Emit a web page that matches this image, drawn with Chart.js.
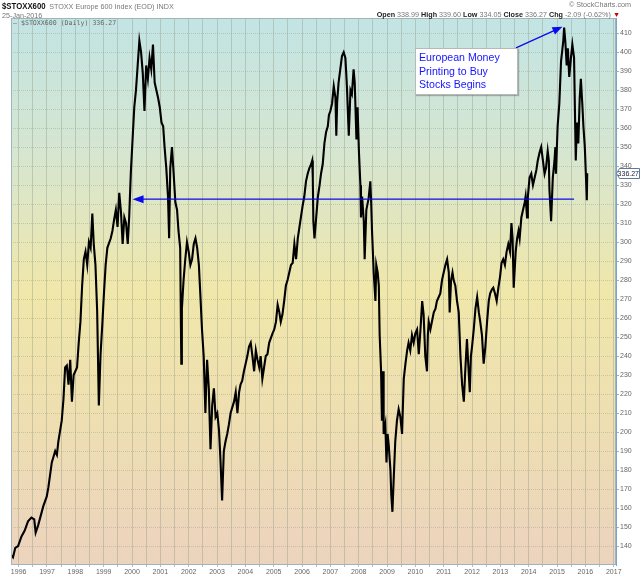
<!DOCTYPE html>
<html>
<head>
<meta charset="utf-8">
<script src="https://cdn.jsdelivr.net/npm/chart.js@4.4.1/dist/chart.umd.min.js"></script>
<style>
  body { margin: 0; background: #fff; }
  #wrap { position: relative; width: 640px; height: 576px; overflow: hidden; font-family: "Liberation Sans", Arial, sans-serif; }
  #chart { position: absolute; left: 0; top: 0; }
  .txt { position: absolute; white-space: nowrap; color: #777; font-size: 7.2px; line-height: 9px; }
  .txt b { color: #222; }
  #sym { font-size: 9.5px; font-weight: bold; color: #111; display: inline-block; transform: scaleX(0.82); transform-origin: left; margin-right: -8px; }
  #legend { font-family: "DejaVu Sans Mono", monospace; font-size: 6.6px; color: #666; }
  #note { position: absolute; left: 415px; top: 48px; width: 98px; height: 43px; background: #fff;
          border: 1px solid #b8b8b8; box-shadow: 1px 1px 1px rgba(0,0,0,0.25);
          color: #1414ff; font-size: 10.6px; line-height: 13.5px; padding: 2px 0 0 3px; }
</style>
</head>
<body>
<div id="wrap">
  <canvas id="chart" width="640" height="576"></canvas>
  <div class="txt" style="left:2px;top:1px;"><span id="sym">$STOXX600</span> STOXX Europe 600 Index (EOD) INDX</div>
  <div class="txt" style="left:2px;top:11px;">25-Jan-2016</div>
  <div class="txt" style="right:9px;top:0px;">© StockCharts.com</div>
  <div class="txt" style="right:20px;top:10px;"><b>Open</b> 338.99 <b>High</b> 339.60 <b>Low</b> 334.05 <b>Close</b> 336.27 <b>Chg</b> -2.09 (-0.62%) <span style="color:#c00">▼</span></div>
  <div class="txt" id="legend" style="left:13px;top:19px;">— $STOXX600 (Daily) 336.27</div>
  <div id="note">European Money<br>Printing to Buy<br>Stocks Begins</div>
</div>
<script>
// dates as decimal years, closes
const years = [
  1995.68, 1995.80, 1995.88, 1995.98, 1996.10, 1996.21, 1996.33, 1996.45, 1996.55, 1996.60,
  1996.69, 1996.87, 1996.99, 1997.05, 1997.17, 1997.29, 1997.35, 1997.40, 1997.52, 1997.58,
  1997.64, 1997.70, 1997.76, 1997.82, 1997.88, 1997.94, 1998.06, 1998.12, 1998.18, 1998.24,
  1998.30, 1998.36, 1998.42, 1998.48, 1998.54, 1998.60, 1998.65, 1998.71, 1998.77, 1998.83,
  1998.89, 1998.95, 1999.01, 1999.07, 1999.13, 1999.25, 1999.31, 1999.37, 1999.43, 1999.49,
  1999.55, 1999.61, 1999.67, 1999.73, 1999.79, 1999.85, 1999.90, 1999.96, 2000.02, 2000.08,
  2000.14, 2000.20, 2000.26, 2000.32, 2000.38, 2000.44, 2000.50, 2000.56, 2000.62, 2000.68,
  2000.74, 2000.80, 2000.86, 2000.92, 2000.98, 2001.04, 2001.10, 2001.15, 2001.21, 2001.27,
  2001.31, 2001.35, 2001.41, 2001.47, 2001.53, 2001.59, 2001.64, 2001.70, 2001.74, 2001.76,
  2001.82, 2001.88, 2001.94, 2002.00, 2002.06, 2002.12, 2002.18, 2002.24, 2002.30, 2002.36,
  2002.41, 2002.47, 2002.53, 2002.59, 2002.62, 2002.65, 2002.71, 2002.77, 2002.83, 2002.89,
  2002.95, 2003.01, 2003.07, 2003.12, 2003.18, 2003.24, 2003.30, 2003.36, 2003.42, 2003.48,
  2003.60, 2003.66, 2003.72, 2003.78, 2003.83, 2003.89, 2003.95, 2004.01, 2004.07, 2004.13,
  2004.19, 2004.25, 2004.31, 2004.37, 2004.43, 2004.49, 2004.54, 2004.60, 2004.66, 2004.72,
  2004.78, 2004.84, 2004.96, 2005.02, 2005.08, 2005.14, 2005.20, 2005.25, 2005.31, 2005.37,
  2005.43, 2005.49, 2005.55, 2005.61, 2005.67, 2005.73, 2005.79, 2005.85, 2005.91, 2005.96,
  2006.02, 2006.08, 2006.14, 2006.20, 2006.26, 2006.32, 2006.36, 2006.38, 2006.40, 2006.44,
  2006.50, 2006.56, 2006.62, 2006.67, 2006.73, 2006.79, 2006.85, 2006.91, 2006.95, 2007.00,
  2007.06, 2007.12, 2007.18, 2007.21, 2007.24, 2007.29, 2007.35, 2007.41, 2007.47, 2007.53,
  2007.56, 2007.59, 2007.65, 2007.71, 2007.76, 2007.82, 2007.86, 2007.92, 2007.96, 2008.01,
  2008.06, 2008.08, 2008.12, 2008.18, 2008.21, 2008.27, 2008.35, 2008.41, 2008.44, 2008.47,
  2008.53, 2008.59, 2008.62, 2008.67, 2008.71, 2008.74, 2008.79, 2008.82, 2008.86, 2008.88,
  2008.94, 2008.98, 2009.02, 2009.06, 2009.12, 2009.15, 2009.19, 2009.24, 2009.29, 2009.35,
  2009.41, 2009.47, 2009.53, 2009.59, 2009.65, 2009.71, 2009.76, 2009.82, 2009.88, 2009.94,
  2010.00, 2010.06, 2010.12, 2010.18, 2010.24, 2010.29, 2010.35, 2010.41, 2010.44, 2010.47,
  2010.53, 2010.65, 2010.71, 2010.76, 2010.82, 2010.88, 2010.94, 2011.00, 2011.06, 2011.12,
  2011.18, 2011.21, 2011.26, 2011.31, 2011.35, 2011.41, 2011.47, 2011.53, 2011.59, 2011.65,
  2011.71, 2011.76, 2011.82, 2011.88, 2011.92, 2011.96, 2012.00, 2012.06, 2012.12, 2012.18,
  2012.24, 2012.29, 2012.35, 2012.41, 2012.47, 2012.53, 2012.59, 2012.64, 2012.70, 2012.75,
  2012.81, 2012.87, 2012.93, 2012.99, 2013.04, 2013.10, 2013.16, 2013.22, 2013.28, 2013.34,
  2013.39, 2013.43, 2013.47, 2013.54, 2013.59, 2013.64, 2013.68, 2013.74, 2013.80, 2013.86,
  2013.89, 2013.94, 2013.97, 2014.03, 2014.09, 2014.15, 2014.21, 2014.27, 2014.32, 2014.38,
  2014.44, 2014.50, 2014.56, 2014.61, 2014.67, 2014.71, 2014.73, 2014.79, 2014.85, 2014.91,
  2014.94, 2014.96, 2015.02, 2015.08, 2015.14, 2015.22, 2015.25, 2015.29, 2015.34, 2015.38,
  2015.43, 2015.49, 2015.54, 2015.60, 2015.64, 2015.66, 2015.70, 2015.75, 2015.80, 2015.84,
  2015.89, 2015.93, 2015.98, 2016.05, 2016.065
];
const closes = [
  136, 134, 139, 140, 145, 148, 153, 155, 154, 147,
  151, 161, 166, 171, 184, 190, 188, 195, 206, 217,
  234, 235, 225, 238, 216, 230, 234, 247, 258, 277,
  291, 295, 288, 300, 297, 315, 299, 288, 264, 214,
  241, 256, 273, 288, 297, 302, 306, 312, 317, 308,
  326, 316, 299, 313, 310, 299, 313, 337, 354, 371,
  380, 393, 406, 400, 389, 369, 393, 386, 397, 391,
  404, 384, 380, 376, 371, 363, 361, 350, 339, 324,
  302, 339, 350, 336, 321, 317, 306, 297, 236, 265,
  280, 291, 300, 295, 288, 291, 299, 302, 297, 288,
  273, 254, 240, 210, 225, 238, 223, 191, 214, 223,
  208, 210, 201, 186, 164, 190, 195, 199, 204, 210,
  216, 221, 210, 221, 225, 227, 232, 236, 240, 245,
  247, 240, 232, 243, 238, 234, 240, 228, 234, 240,
  241, 247, 252, 254, 258, 267, 263, 258, 262, 269,
  277, 280, 284, 288, 289, 299, 291, 302, 308, 313,
  319, 324, 332, 336, 339, 341, 343, 334, 311, 302,
  313, 324, 330, 336, 341, 352, 358, 361, 367, 369,
  373, 382, 376, 356, 374, 384, 391, 398, 400, 397,
  389, 380, 356, 380, 378, 391, 384, 354, 371, 347,
  330, 313, 324, 311, 291, 317, 323, 332, 321, 306,
  284, 269, 288, 284, 277, 251, 232, 206, 232, 199,
  204, 184, 199, 193, 180, 167, 158, 177, 195, 206,
  212, 208, 199, 228, 236, 243, 247, 243, 251, 247,
  252, 254, 241, 254, 269, 262, 240, 232, 251, 258,
  254, 263, 265, 269, 271, 273, 280, 284, 288, 291,
  284, 263, 280, 284, 280, 277, 269, 263, 240, 225,
  216, 232, 249, 232, 221, 240, 245, 254, 265, 271,
  263, 258, 251, 236, 245, 258, 269, 273, 275, 276,
  273, 269, 276, 282, 289, 291, 288, 295, 299, 295,
  310, 302, 276, 295, 302, 306, 302, 313, 317, 321,
  324, 313, 324, 334, 336, 330, 334, 338, 343, 347,
  350, 343, 336, 339, 348, 343, 328, 311, 334, 343,
  350, 336, 361, 373, 395, 406, 413, 406, 393, 402,
  387, 397, 404, 397, 361, 343, 363, 352, 376, 386,
  373, 361, 350, 322, 336.27
];
const yearLabels = ["1996","1997","1998","1999","2000","2001","2002","2003","2004","2005","2006",
                    "2007","2008","2009","2010","2011","2012","2013","2014","2015","2016","2017"];
const priceTicks = [140,150,160,170,180,190,200,210,220,230,240,250,260,270,280,290,
                    300,310,320,330,340,350,360,370,380,390,400,410];
const lastClose = 336.27;
// annotation anchors in data units
const supportLevel = 322.6, supportFrom = 2000.02, supportTo = 2015.6;
const noteArrowFrom = [2013.55, 402.3], noteArrowTo = [2015.19, 413.4];

const points = years.map((x, i) => ({ x: x, y: closes[i] }));

function arrow(ctx, x1, y1, x2, y2, len, half) {
  const a = Math.atan2(y2 - y1, x2 - x1);
  ctx.beginPath();
  ctx.moveTo(x1, y1);
  ctx.lineTo(x2 - Math.cos(a) * len * 0.8, y2 - Math.sin(a) * len * 0.8);
  ctx.stroke();
  ctx.beginPath();
  ctx.moveTo(x2, y2);
  ctx.lineTo(x2 - Math.cos(a) * len - Math.sin(a) * half, y2 - Math.sin(a) * len + Math.cos(a) * half);
  ctx.lineTo(x2 - Math.cos(a) * len + Math.sin(a) * half, y2 - Math.sin(a) * len - Math.cos(a) * half);
  ctx.closePath();
  ctx.fill();
}

const decor = {
  id: "decor",
  beforeDraw(chart) {
    const { ctx, chartArea: a } = chart;
    const g = ctx.createLinearGradient(0, a.top, 0, a.bottom);
    g.addColorStop(0, "rgb(194,228,228)");
    g.addColorStop(0.25, "rgb(214,230,208)");
    g.addColorStop(0.5, "rgb(240,231,170)");
    g.addColorStop(0.75, "rgb(238,222,178)");
    g.addColorStop(1, "rgb(236,211,190)");
    ctx.save();
    ctx.fillStyle = g;
    ctx.fillRect(a.left, a.top, a.right - a.left, a.bottom - a.top);
    ctx.restore();
  },
  afterDatasetsDraw(chart) {
    const { ctx, chartArea: a, scales: { x, y } } = chart;
    ctx.save();
    ctx.strokeStyle = "rgb(160,180,188)";
    ctx.lineWidth = 1;
    ctx.strokeRect(a.left + 0.5, a.top + 0.5, a.right - a.left - 1, a.bottom - a.top - 1);

    ctx.strokeStyle = "#0a0aee";
    ctx.fillStyle = "#0a0aee";
    ctx.lineWidth = 1.3;
    const ly = y.getPixelForValue(supportLevel);
    arrow(ctx, x.getPixelForValue(supportTo), ly, x.getPixelForValue(supportFrom), ly, 11, 4);
    arrow(ctx, x.getPixelForValue(noteArrowFrom[0]), y.getPixelForValue(noteArrowFrom[1]),
          x.getPixelForValue(noteArrowTo[0]), y.getPixelForValue(noteArrowTo[1]), 10, 4);

    // last price tag on the axis
    const py = Math.round(y.getPixelForValue(lastClose)) + 0.5;
    const px = a.right + 0.5;
    ctx.fillStyle = "#fff";
    ctx.strokeStyle = "rgb(90,120,160)";
    ctx.lineWidth = 1;
    ctx.beginPath();
    ctx.moveTo(px, py);
    ctx.lineTo(px + 3, py - 5);
    ctx.lineTo(639.5, py - 5);
    ctx.lineTo(639.5, py + 5);
    ctx.lineTo(px + 3, py + 5);
    ctx.closePath();
    ctx.fill();
    ctx.stroke();
    ctx.fillStyle = "#223";
    ctx.font = "7px 'Liberation Sans', Arial, sans-serif";
    ctx.textBaseline = "middle";
    ctx.textAlign = "right";
    ctx.fillText(lastClose.toFixed(2), 639, py + 0.5);
    ctx.restore();
  }
};

new Chart(document.getElementById("chart"), {
  type: "line",
  data: {
    datasets: [{
      label: "$STOXX600 (Daily)",
      data: points,
      borderColor: "#000",
      borderWidth: 2.1,
      pointRadius: 0,
      tension: 0,
    }],
  },
  options: {
    responsive: false,
    animation: false,
    parsing: false,
    layout: { padding: { left: 11, top: 18, right: 0, bottom: 0 } },
    plugins: { legend: { display: false }, tooltip: { enabled: false } },
    scales: {
      x: {
        type: "linear",
        min: 1995.73,
        max: 2017.08,
        afterBuildTicks(scale) {
          const t = [];
          yearLabels.forEach(l => { t.push({ value: +l }); t.push({ value: +l + 0.5 }); });
          scale.ticks = t.filter(k => k.value <= 2017.08);
        },
        afterFit(scale) { scale.height = 11; },
        ticks: {
          autoSkip: false,
          maxRotation: 0,
          padding: 1,
          color: "#666",
          font: { size: 7, family: "'Liberation Sans', Arial, sans-serif" },
          callback: v => (Number.isInteger(v) ? yearLabels[v - 1996] : ""),
        },
        grid: { color: "rgba(140,150,130,0.38)", tickLength: 2, tickColor: "rgba(120,120,120,0.5)" },
        border: { display: false },
      },
      y: {
        position: "right",
        min: 130,
        max: 418,
        afterBuildTicks(scale) { scale.ticks = priceTicks.map(v => ({ value: v })); },
        afterFit(scale) { scale.width = 24; },
        ticks: {
          padding: 1,
          color: "#666",
          font: { size: 7, family: "'Liberation Sans', Arial, sans-serif" },
        },
        grid: { color: "rgba(140,150,130,0.38)", tickLength: 3, tickColor: "rgba(120,120,120,0.6)" },
        border: { display: true, color: "rgb(120,165,205)", dash: [1, 1] },
      },
    },
  },
  plugins: [decor],
});
</script>
</body>
</html>
